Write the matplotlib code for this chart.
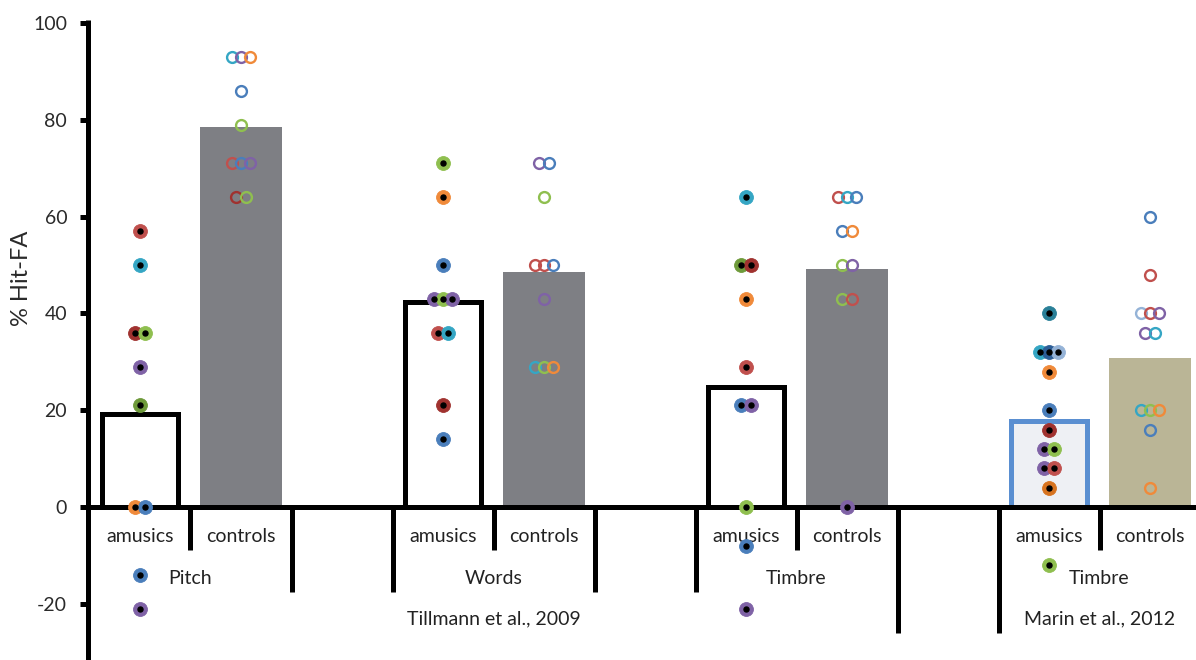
import matplotlib.pyplot as plt

plt.rcParams['font.family'] = ['Lato', 'DejaVu Sans']
plt.rcParams['axes.unicode_minus'] = False

conditions = ['amusics', 'controls']
groups = ['Pitch', 'Words', 'Timbre', 'Timbre']
studies = ['Tillmann et al., 2009', 'Marin et al., 2012']
groups_per_study = [3, 1]
bar_means = [19.3, 78.5, 42.3, 48.5, 24.8, 49.2, 17.8, 30.8]

# individual scores (filled = amusics, open = controls)
pitch_am = [57, 50, 36, 36, 29, 21, 0, 0, -14, -21]
pitch_am_col = ['red', 'teal', 'dred', 'green', 'purple', 'dgreen', 'orange', 'blue', 'blue', 'purple']
pitch_ct = [93, 93, 93, 86, 79, 71, 71, 71, 64, 64]
pitch_ct_col = ['teal', 'purple', 'orange', 'blue', 'green', 'red', 'blue', 'purple', 'dred', 'green']

words_am = [71, 64, 50, 43, 43, 43, 36, 36, 21, 14]
words_am_col = ['green', 'orange', 'blue', 'purple', 'green', 'purple', 'red', 'teal', 'dred', 'blue']
words_ct = [71, 71, 64, 50, 50, 50, 43, 29, 29, 29]
words_ct_col = ['purple', 'blue', 'green', 'red', 'red', 'blue', 'purple', 'teal', 'green', 'orange']

timbre_am = [64, 50, 50, 43, 29, 21, 21, 0, -8, -21]
timbre_am_col = ['teal', 'dgreen', 'dred', 'orange', 'red', 'blue', 'purple', 'green', 'blue', 'purple']
timbre_ct = [64, 64, 64, 57, 57, 50, 50, 43, 43]
timbre_ct_col = ['red', 'teal', 'blue', 'blue', 'orange', 'green', 'purple', 'green', 'red']
timbre_ct_filled = [0]
timbre_ct_filled_col = ['purple']

marin_am = [40, 32, 32, 32, 28, 20, 16, 12, 12, 8, 8, 4, -12]
marin_am_col = ['dteal', 'teal', 'dblue', 'lblue', 'orange', 'blue', 'dred', 'purple', 'green',
                'purple', 'red', 'dorange', 'green']
marin_ct = [60, 48, 40, 40, 40, 36, 36, 20, 20, 20, 16, 4]
marin_ct_col = ['blue', 'red', 'lblue', 'red', 'purple', 'purple', 'teal', 'teal', 'green',
                'orange', 'blue', 'orange']

palette = {
    'red': '#c0504d', 'dred': '#a0322f', 'blue': '#4a7ebb', 'dblue': '#2c5d96',
    'lblue': '#95b3d7', 'teal': '#35a6c4', 'dteal': '#2a8098', 'green': '#8fbf4f',
    'dgreen': '#6e9a3a', 'purple': '#7f62a6', 'orange': '#f08a3a', 'dorange': '#d7731f',
}


def spread(values, step=0.09):
    # place points with the same score side by side
    offsets = []
    for i, v in enumerate(values):
        n = values.count(v)
        k = values[:i].count(v)
        offsets.append((k - (n - 1) / 2) * step)
    return offsets


def draw_filled(ax, x0, values, cols):
    for dx, v, c in zip(spread(values), values, cols):
        ax.plot(x0 + dx, v, 'o', ms=10, mfc=palette[c], mec=palette[c], mew=0.6, zorder=5)
        ax.plot(x0 + dx, v, 'o', ms=3.6, color='black', zorder=6)


def draw_open(ax, x0, values, cols):
    for dx, v, c in zip(spread(values), values, cols):
        ax.plot(x0 + dx, v, 'o', ms=7.8, mfc='none', mec=palette[c], mew=1.7, zorder=5)


fig = plt.figure(figsize=(11.96, 6.6), dpi=100)
ax = fig.add_axes([0, 0, 1, 1])
ax.set_xlim(-1.386, 10.455)
ax.set_ylim(-31.6, 104.75)

positions = []
for g in range(len(groups)):
    positions += [3 * g, 3 * g + 1]

# bars
for i, (p, m) in enumerate(zip(positions, bar_means)):
    marin = i >= 6
    if i % 2 == 0:
        ax.bar(p, m, width=0.76, facecolor='#eef0f4' if marin else 'white',
               edgecolor='#5a8fd1' if marin else 'black', linewidth=3.6, zorder=2)
    else:
        ax.bar(p, m, width=0.81, color='#bab596' if marin else '#7e7f84', zorder=2)

# points
draw_filled(ax, positions[0], pitch_am, pitch_am_col)
draw_open(ax, positions[1], pitch_ct, pitch_ct_col)
draw_filled(ax, positions[2], words_am, words_am_col)
draw_open(ax, positions[3], words_ct, words_ct_col)
draw_filled(ax, positions[4], timbre_am, timbre_am_col)
draw_open(ax, positions[5], timbre_ct, timbre_ct_col)
draw_filled(ax, positions[5], timbre_ct_filled, timbre_ct_filled_col)
draw_filled(ax, positions[6], marin_am, marin_am_col)
draw_open(ax, positions[7], marin_ct, marin_ct_col)

# axes
for s in ['top', 'right', 'bottom']:
    ax.spines[s].set_visible(False)
ax.spines['left'].set_position(('data', -0.515))
ax.spines['left'].set_bounds(-31.6, 100.6)
ax.spines['left'].set_linewidth(3.6)
ax.spines['left'].set_capstyle('butt')
ax.set_yticks(range(-20, 101, 20))
ax.tick_params(axis='y', direction='out', length=6, width=3.6, pad=9,
               labelsize=14, labelcolor='#2a2a2a')
ax.set_xticks([])
ax.plot([-0.515, 10.455], [0, 0], color='black', lw=3.6, solid_capstyle='butt', zorder=3)
ax.text(-1.17, 47.3, '% Hit-FA', rotation=90, ha='center', va='center',
        fontsize=17, color='#2a2a2a')

# category labels below the axis
text_kw = dict(ha='center', va='center', fontsize=14, color='#222222')
for i, p in enumerate(positions):
    ax.text(p, -6, conditions[i % 2], **text_kw)

study_of_group = []
for s, n in enumerate(groups_per_study):
    study_of_group += [s] * n

for g, name in enumerate(groups):
    a, b = positions[2 * g], positions[2 * g + 1]
    ax.text((a + b) / 2, -14.7, name, **text_kw)
    ax.plot([(a + b) / 2] * 2, [0, -8.9], color='black', lw=3.6, solid_capstyle='butt')
    if g > 0:
        depth = -26 if study_of_group[g] != study_of_group[g - 1] else -17.6
        ax.plot([a - 0.5] * 2, [0, depth], color='black', lw=3.6, solid_capstyle='butt')
    if g < len(groups) - 1:
        depth = -26 if study_of_group[g] != study_of_group[g + 1] else -17.6
        ax.plot([b + 0.5] * 2, [0, depth], color='black', lw=3.6, solid_capstyle='butt')

start = 0
for s, n in enumerate(groups_per_study):
    first = positions[2 * start]
    last = positions[2 * (start + n) - 1]
    ax.text((first + last) / 2, -23.1, studies[s], **text_kw)
    start += n

fig.savefig('out.png', dpi=100)
